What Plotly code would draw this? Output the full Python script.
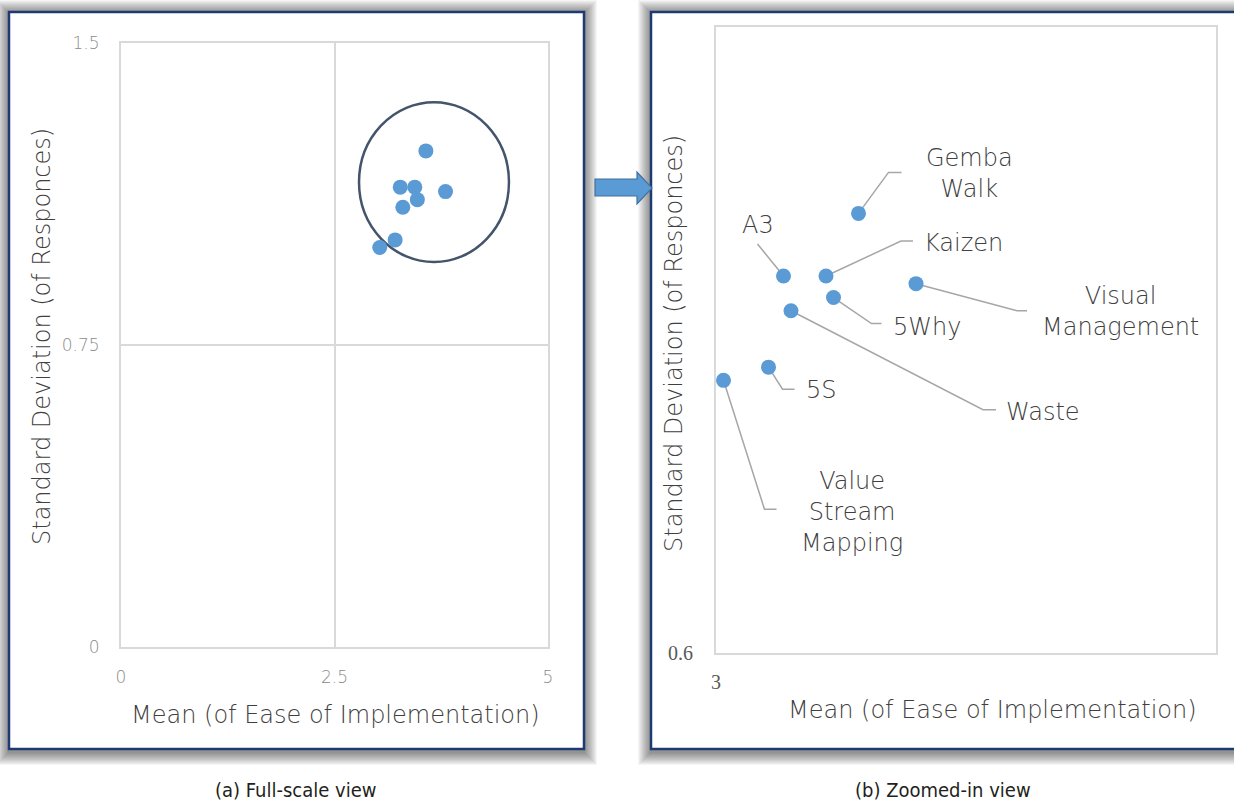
import plotly.graph_objects as go

# Lean tools: mean ease of implementation vs. standard deviation of responses
tools = ["Gemba<br>Walk", "A3", "Kaizen", "5Why", "Visual<br>Management",
         "Waste", "5S", "Value<br>Stream<br>Mapping"]
mean_ease = [3.57, 3.27, 3.44, 3.47, 3.80, 3.30, 3.21, 3.03]
std_dev = [1.232, 1.142, 1.142, 1.111, 1.131, 1.092, 1.011, 0.992]

full_x_ticks = [0, 2.5, 5]
full_x_text = ["0", "2.5", "5"]
full_y_ticks = [0, 0.75, 1.5]
full_y_text = ["0", "0.75", "1.5"]

W, H = 1234, 803
BLUE = "#5b9bd5"
NAVY = "#1f3a73"
GRID = "#d9d9d9"
TXT = "#404040"
FONT = "'DejaVu Sans', Lato, sans-serif"

def px(x):
    return x / W

def py(y):
    return 1 - y / H

# callout placement per label: elbow, end of horizontal tick, text offset (px, y down), anchor
callouts = [
    ((30, -41), (43, -41), (111, -40), "center"),
    ((-26, -32), (-26, -32), (-26, -51), "center"),
    ((75, -35), (87, -35), (96, -33), "left"),
    ((38, 26), (48, 26), (57, 29), "left"),
    ((101, 27), (111, 27), (204, 28), "center"),
    ((192, 99), (205, 99), (213, 101), "left"),
    ((14, 22), (26, 22), (35, 23), "left"),
    ((41, 129), (53, 129), (128, 132), "center"),
]

fig = go.Figure()

fig.add_trace(go.Scatter(x=mean_ease, y=std_dev, mode="markers", xaxis="x", yaxis="y",
                         marker=dict(color=BLUE, size=15), showlegend=False, hoverinfo="skip"))
fig.add_trace(go.Scatter(x=mean_ease, y=std_dev, mode="markers", xaxis="x2", yaxis="y2",
                         marker=dict(color=BLUE, size=15), showlegend=False, hoverinfo="skip"))

shapes = []

# soft drop shadows and framed panels
frames = [(9, 12, 584, 749), (651, 12, 1260, 749)]
for (l, t, r, b) in frames:
    for k in range(13, 0, -1):
        shapes.append(dict(type="rect", xref="paper", yref="paper",
                           x0=px(l - k), x1=px(r + k), y0=py(b + k + 3), y1=py(t - k + 1),
                           fillcolor="rgba(0,0,0,0.038)", line=dict(width=0), layer="below"))
for (l, t, r, b) in frames:
    shapes.append(dict(type="rect", xref="paper", yref="paper",
                       x0=px(l), x1=px(r), y0=py(b), y1=py(t),
                       fillcolor="white", line=dict(color=NAVY, width=2.5), layer="below"))

# block arrow between the panels
ax_pts = [(595, 179), (637, 179), (637, 172), (652, 188), (637, 204), (637, 196), (595, 196)]
path = "M " + " L ".join(f"{px(a):.5f},{py(b):.5f}" for a, b in ax_pts) + " Z"
shapes.append(dict(type="path", xref="paper", yref="paper", path=path,
                   fillcolor=BLUE, line=dict(color="#41719c", width=1.2), layer="above"))

# cluster outline on the full-scale view
shapes.append(dict(type="circle", xref="x", yref="y", x0=2.787, x1=4.543, y0=0.956, y1=1.353,
                   line=dict(color="#44546a", width=2.5), layer="between"))

# leader lines on the zoomed view
for xv, yv, (e, f, _, _) in zip(mean_ease, std_dev, callouts):
    shapes.append(dict(type="path", xref="x2", yref="y2", xsizemode="pixel", ysizemode="pixel",
                       xanchor=xv, yanchor=yv,
                       path=f"M 0,0 L {e[0]},{-e[1]} L {f[0]},{-f[1]}",
                       line=dict(color="#a6a6a6", width=1.5), layer="between"))

label_font = dict(family=FONT, size=24, color=TXT, weight=200)
annotations = []
for name, xv, yv, (_, _, tpos, anchor) in zip(tools, mean_ease, std_dev, callouts):
    annotations.append(dict(x=xv, y=yv, xref="x2", yref="y2", text=name, showarrow=False,
                            xshift=tpos[0], yshift=-tpos[1], xanchor=anchor, yanchor="middle",
                            align="center", font=label_font))

title_font = dict(family=FONT, size=24, color=TXT, weight=200)
for cx, cy, txt, ang in [(335, 715, "Mean (of Ease of Implementation)", 0),
                         (42, 337, "Standard Deviation (of Responces)", -90),
                         (992, 710, "Mean (of Ease of Implementation)", 0),
                         (674, 344, "Standard Deviation (of Responces)", -90)]:
    annotations.append(dict(x=px(cx), y=py(cy), xref="paper", yref="paper", text=txt,
                            showarrow=False, textangle=ang, xanchor="center", yanchor="middle",
                            font=title_font))

cap_font = dict(family="'Liberation Sans Narrow', 'DejaVu Sans Condensed', 'Roboto Condensed', sans-serif",
                size=20, color="#231f20")
for cx, txt in [(295, "(a) Full-scale view"), (943, "(b) Zoomed-in view")]:
    annotations.append(dict(x=px(cx), y=py(790), xref="paper", yref="paper", text=txt,
                            showarrow=False, xanchor="center", yanchor="middle", font=cap_font))

tick_font = dict(family=FONT, size=17, color="#8c8c8c", weight=200)
serif_tick = dict(family="'Liberation Serif', 'DejaVu Serif', serif", size=20, color="#595959")

common = dict(zeroline=False, showline=True, mirror=True, linecolor=GRID, linewidth=2,
              ticks="", automargin=False, fixedrange=True)

fig.update_layout(
    width=W, height=H, margin=dict(l=0, r=0, t=0, b=0, pad=0, autoexpand=False),
    paper_bgcolor="white", plot_bgcolor="rgba(0,0,0,0)",
    showlegend=False,
    xaxis=dict(domain=[px(121), px(548)], range=[0, 5], tickvals=full_x_ticks, ticktext=full_x_text,
               showgrid=True, gridcolor=GRID, gridwidth=1.5, tickfont=tick_font,
               ticklabelstandoff=14, anchor="y", **common),
    yaxis=dict(domain=[py(647), py(43)], range=[0, 1.5], tickvals=full_y_ticks, ticktext=full_y_text,
               showgrid=True, gridcolor=GRID, gridwidth=1.5, tickfont=tick_font,
               ticklabelstandoff=16, anchor="x", **common),
    xaxis2=dict(domain=[px(716), px(1216)], range=[3, 5], tickvals=[3], ticktext=["3"],
                showgrid=False, tickfont=serif_tick, ticklabelstandoff=10, anchor="y2", **common),
    yaxis2=dict(domain=[py(653), py(27)], range=[0.6, 1.5], tickvals=[0.6], ticktext=["0.6"],
                showgrid=False, tickfont=serif_tick, ticklabelstandoff=17, anchor="x2", **common),
    shapes=shapes,
    annotations=annotations,
)

fig.write_html("out.html")
